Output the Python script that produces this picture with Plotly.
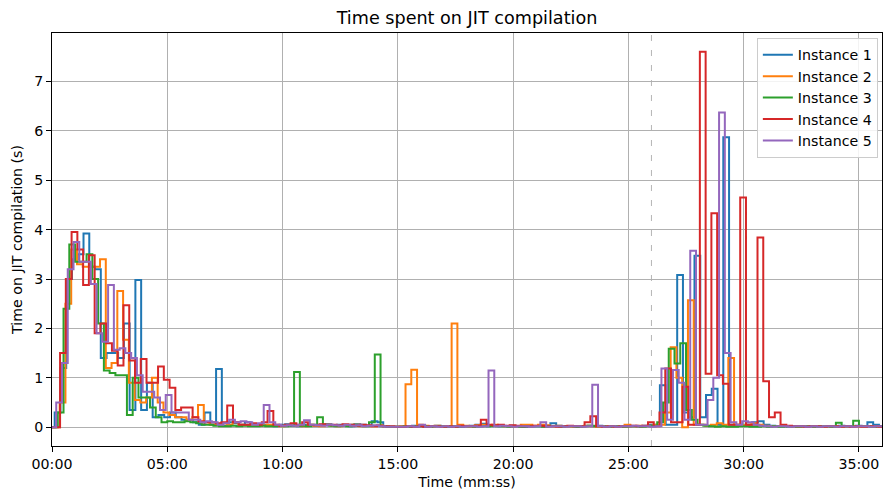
import plotly.graph_objects as go

# ---- data (seconds since start, 15 s samples; each instance has its own sampling offset) ----
step_s = 15
end_s = 2160
marker_s = 1560  # dashed reference line (26:00)

names = ["Instance 1", "Instance 2", "Instance 3", "Instance 4", "Instance 5"]
colors = ["#1f77b4", "#ff7f0e", "#2ca02c", "#d62728", "#9467bd"]
offsets = [7, 5, 0, 6, 11]

inst1 = [
    0.3, 1.2, 3.0, 3.4, 3.5, 3.92, 3.25, 3.2, 1.4, 1.5, 1.5, 1.4,
    2.1, 0.35, 2.98, 0.35, 0.9, 0.2, 0.25, 0.2, 0.3, 0.2, 0.15, 0.15,
    0.1, 0.05, 0.3, 0.05, 1.18, 0.03, 0.1, 0.08, 0.05, 0.1, 0.05, 0.03,
    0.05, 0.04, 0.02, 0.05, 0.06, 0.03, 0.02, 0.05, 0.04, 0.03, 0.05, 0.06,
    0.03, 0.05, 0.04, 0.02, 0.06, 0.05, 0.03, 0.12, 0.1, 0.02, 0.01, 0.01,
    0.01, 0.02, 0.03, 0.02, 0.01, 0.02, 0.03, 0.02, 0.01, 0.02, 0.01, 0.02,
    0.03, 0.05, 0.07, 0.02, 0.03, 0.02, 0.02, 0.03, 0.02, 0.01, 0.02, 0.02,
    0.02, 0.03, 0.08, 0.03, 0.02, 0.02, 0.01, 0.02, 0.03, 0.02, 0.03, 0.02,
    0.02, 0.01, 0.02, 0.03, 0.02, 0.02, 0.03, 0.05, 0.05, 0.85, 0.05, 0.05,
    3.08, 0.3, 0.2, 3.47, 0.2, 0.65, 0.78, 0.05, 5.87, 0.05, 0.04, 0.05,
    0.05, 0.1, 0.12, 0.05, 0.03, 0.02, 0.02, 0.01, 0.02, 0.02, 0.01, 0.02,
    0.02, 0.01, 0.02, 0.02, 0.03, 0.02, 0.02, 0.03, 0.02, 0.1, 0.05, 0.02,
]
inst2 = [
    0.0, 0.5, 2.5, 3.6, 3.3, 3.25, 3.25, 3.25, 3.4, 1.2, 1.3, 2.76,
    1.77, 0.9, 0.55, 0.5, 0.6, 1.0, 0.5, 0.3, 0.25, 0.2, 0.2, 0.15,
    0.2, 0.45, 0.1, 0.05, 0.05, 0.08, 0.05, 0.1, 0.05, 0.04, 0.05, 0.03,
    0.04, 0.05, 0.03, 0.02, 0.04, 0.05, 0.03, 0.02, 0.04, 0.03, 0.02, 0.05,
    0.03, 0.02, 0.04, 0.03, 0.05, 0.02, 0.03, 0.02, 0.04, 0.02, 0.01, 0.01,
    0.02, 0.87, 1.165, 0.05, 0.03, 0.02, 0.03, 0.02, 0.02, 2.1, 0.05, 0.03,
    0.02, 0.04, 0.05, 0.03, 0.05, 0.04, 0.02, 0.01, 0.02, 0.05, 0.05, 0.03,
    0.05, 0.04, 0.02, 0.03, 0.02, 0.01, 0.02, 0.02, 0.03, 0.02, 0.01, 0.02,
    0.02, 0.01, 0.02, 0.05, 0.02, 0.03, 0.02, 0.03, 0.05, 0.05, 0.3, 1.62,
    1.0, 0.0, 2.57, 0.05, 0.05, 0.03, 0.05, 0.08, 0.05, 1.4, 0.05, 0.04,
    0.05, 0.08, 0.05, 0.03, 0.02, 0.02, 0.03, 0.02, 0.02, 0.01, 0.02, 0.02,
    0.02, 0.01, 0.02, 0.02, 0.01, 0.02, 0.02, 0.01, 0.02, 0.02, 0.01, 0.02,
]
inst3 = [
    0.0, 0.3, 2.4, 3.7, 3.35, 3.35, 3.5, 3.0, 2.1, 1.15, 1.1, 1.05,
    1.05, 0.25, 1.0, 0.6, 0.6, 0.4, 0.2, 0.1, 0.12, 0.1, 0.1, 0.12,
    0.1, 0.08, 0.05, 0.05, 0.03, 0.02, 0.02, 0.03, 0.02, 0.03, 0.02, 0.02,
    0.03, 0.02, 0.02, 0.03, 0.02, 0.03, 1.12, 0.03, 0.02, 0.05, 0.2, 0.05,
    0.03, 0.02, 0.03, 0.02, 0.05, 0.03, 0.02, 0.1, 1.47, 0.02, 0.01, 0.01,
    0.01, 0.02, 0.01, 0.02, 0.02, 0.01, 0.02, 0.02, 0.01, 0.02, 0.01, 0.02,
    0.02, 0.01, 0.02, 0.02, 0.03, 0.02, 0.02, 0.01, 0.02, 0.01, 0.02, 0.02,
    0.02, 0.01, 0.02, 0.02, 0.01, 0.02, 0.02, 0.01, 0.02, 0.03, 0.02, 0.02,
    0.01, 0.02, 0.02, 0.01, 0.02, 0.02, 0.01, 0.02, 0.03, 0.1, 0.5, 1.59,
    1.29, 1.7, 0.35, 0.15, 0.05, 0.03, 0.02, 0.01, 0.02, 0.01, 0.01, 0.02,
    0.02, 0.01, 0.01, 0.02, 0.01, 0.02, 0.01, 0.02, 0.02, 0.01, 0.02, 0.02,
    0.01, 0.02, 0.02, 0.01, 0.09, 0.02, 0.02, 0.13, 0.02, 0.02, 0.01, 0.02,
]
inst4 = [
    0.0, 1.5, 3.0, 3.95, 3.6, 2.88, 3.48, 1.9, 2.1, 1.7, 1.55, 1.25,
    2.47, 1.35, 0.9, 1.38, 0.9, 0.9, 1.23, 0.96, 0.8, 0.35, 0.4, 0.4,
    0.2, 0.12, 0.1, 0.1, 0.08, 0.1, 0.44, 0.1, 0.05, 0.05, 0.08, 0.05,
    0.1, 0.33, 0.05, 0.03, 0.05, 0.08, 0.05, 0.1, 0.05, 0.04, 0.06, 0.05,
    0.05, 0.04, 0.06, 0.05, 0.03, 0.05, 0.04, 0.02, 0.03, 0.02, 0.02, 0.01,
    0.01, 0.02, 0.01, 0.02, 0.01, 0.02, 0.02, 0.01, 0.02, 0.01, 0.03, 0.02,
    0.02, 0.03, 0.15, 0.05, 0.04, 0.05, 0.03, 0.04, 0.03, 0.02, 0.02, 0.03,
    0.03, 0.02, 0.02, 0.01, 0.02, 0.03, 0.02, 0.02, 0.1, 0.22, 0.02, 0.01,
    0.02, 0.01, 0.02, 0.02, 0.03, 0.02, 0.03, 0.1, 0.02, 0.3, 1.19, 0.1,
    0.1, 0.82, 0.05, 0.05, 7.6, 1.08, 4.33, 1.05, 0.88, 0.05, 0.05, 4.65,
    0.05, 0.05, 3.84, 0.93, 0.2, 0.3, 0.05, 0.03, 0.02, 0.02, 0.01, 0.02,
    0.02, 0.01, 0.02, 0.02, 0.01, 0.02, 0.01, 0.02, 0.01, 0.02, 0.02, 0.01,
]
inst5 = [
    0.5, 1.3, 3.2, 3.75, 3.35, 3.35, 2.9, 1.9, 1.73, 2.88, 1.57, 1.6,
    1.5, 1.4, 1.05, 0.72, 0.72, 0.6, 0.35, 0.65, 0.3, 0.3, 0.3, 0.15,
    0.15, 0.1, 0.12, 0.1, 0.05, 0.08, 0.15, 0.1, 0.12, 0.1, 0.05, 0.08,
    0.45, 0.1, 0.05, 0.03, 0.04, 0.03, 0.05, 0.14, 0.05, 0.04, 0.03, 0.05,
    0.04, 0.03, 0.05, 0.03, 0.04, 0.02, 0.03, 0.04, 0.02, 0.01, 0.01, 0.01,
    0.01, 0.02, 0.01, 0.05, 0.01, 0.02, 0.01, 0.02, 0.01, 0.02, 0.01, 0.02,
    0.02, 0.01, 0.02, 1.15, 0.02, 0.03, 0.02, 0.01, 0.02, 0.02, 0.01, 0.02,
    0.1, 0.01, 0.02, 0.02, 0.01, 0.02, 0.02, 0.01, 0.02, 0.86, 0.02, 0.01,
    0.02, 0.01, 0.02, 0.02, 0.03, 0.02, 0.02, 0.01, 0.02, 1.19, 0.15, 1.16,
    0.9, 0.15, 3.57, 0.05, 0.05, 0.55, 1.0, 6.37, 1.5, 0.1, 0.05, 0.12,
    0.1, 0.05, 0.03, 0.02, 0.01, 0.02, 0.02, 0.01, 0.02, 0.02, 0.01, 0.02,
    0.01, 0.02, 0.02, 0.01, 0.02, 0.02, 0.01, 0.02, 0.02, 0.01, 0.02, 0.02,
]
series = [inst1, inst2, inst3, inst4, inst5]

x_tick_vals = [0, 300, 600, 900, 1200, 1500, 1800, 2100]
x_tick_text = ["00:00", "05:00", "10:00", "15:00", "20:00", "25:00", "30:00", "35:00"]
y_tick_vals = [0, 1, 2, 3, 4, 5, 6, 7]

FONT = "DejaVu Sans"
FS = 14.2

fig = go.Figure()
for name, color, off, vals in zip(names, colors, offsets, series):
    xs = [0] + [off + step_s * i for i in range(len(vals))] + [end_s]
    ys = [0.0] + list(vals) + [vals[-1]]
    fig.add_trace(go.Scatter(
        x=xs, y=ys, mode="lines", name=name,
        line=dict(color=color, width=2, shape="hv"),
    ))

fig.add_shape(type="line", x0=marker_s, x1=marker_s, xref="x", y0=0, y1=1, yref="paper",
              line=dict(color="#b5b5b5", width=1, dash="6px,9px"), layer="below")

axis_common = dict(
    showline=True, linecolor="black", linewidth=1, mirror=True,
    ticks="outside", ticklen=5, tickwidth=1, tickcolor="black",
    showgrid=True, gridcolor="#b0b0b0", gridwidth=1, zeroline=False,
    tickfont=dict(family=FONT, size=FS, color="black"),
)

fig.update_layout(
    width=883, height=490,
    margin=dict(l=52, r=1, t=33, b=44),
    paper_bgcolor="white", plot_bgcolor="white",
    font=dict(family=FONT, size=FS, color="black"),
    title=dict(text="Time spent on JIT compilation", x=0.5, xref="paper",
               y=1 - 18 / 490, yref="container", yanchor="middle",
               font=dict(family=FONT, size=17.6, color="black")),
    xaxis=dict(range=[0, end_s], tickvals=x_tick_vals, ticktext=x_tick_text,
               title=dict(text="Time (mm:ss)", standoff=7,
                          font=dict(family=FONT, size=FS, color="black")),
               **axis_common),
    yaxis=dict(range=[-0.38, 7.98], tickvals=y_tick_vals,
               title=dict(text="Time on JIT compilation (s)", standoff=8,
                          font=dict(family=FONT, size=FS, color="black")),
               **axis_common),
    legend=dict(x=0.995, xanchor="right", y=0.988, yanchor="top",
                bgcolor="rgba(255,255,255,0.85)", bordercolor="#cccccc", borderwidth=1,
                font=dict(family=FONT, size=FS, color="black")),
    showlegend=True,
)

fig.write_html("out.html")
